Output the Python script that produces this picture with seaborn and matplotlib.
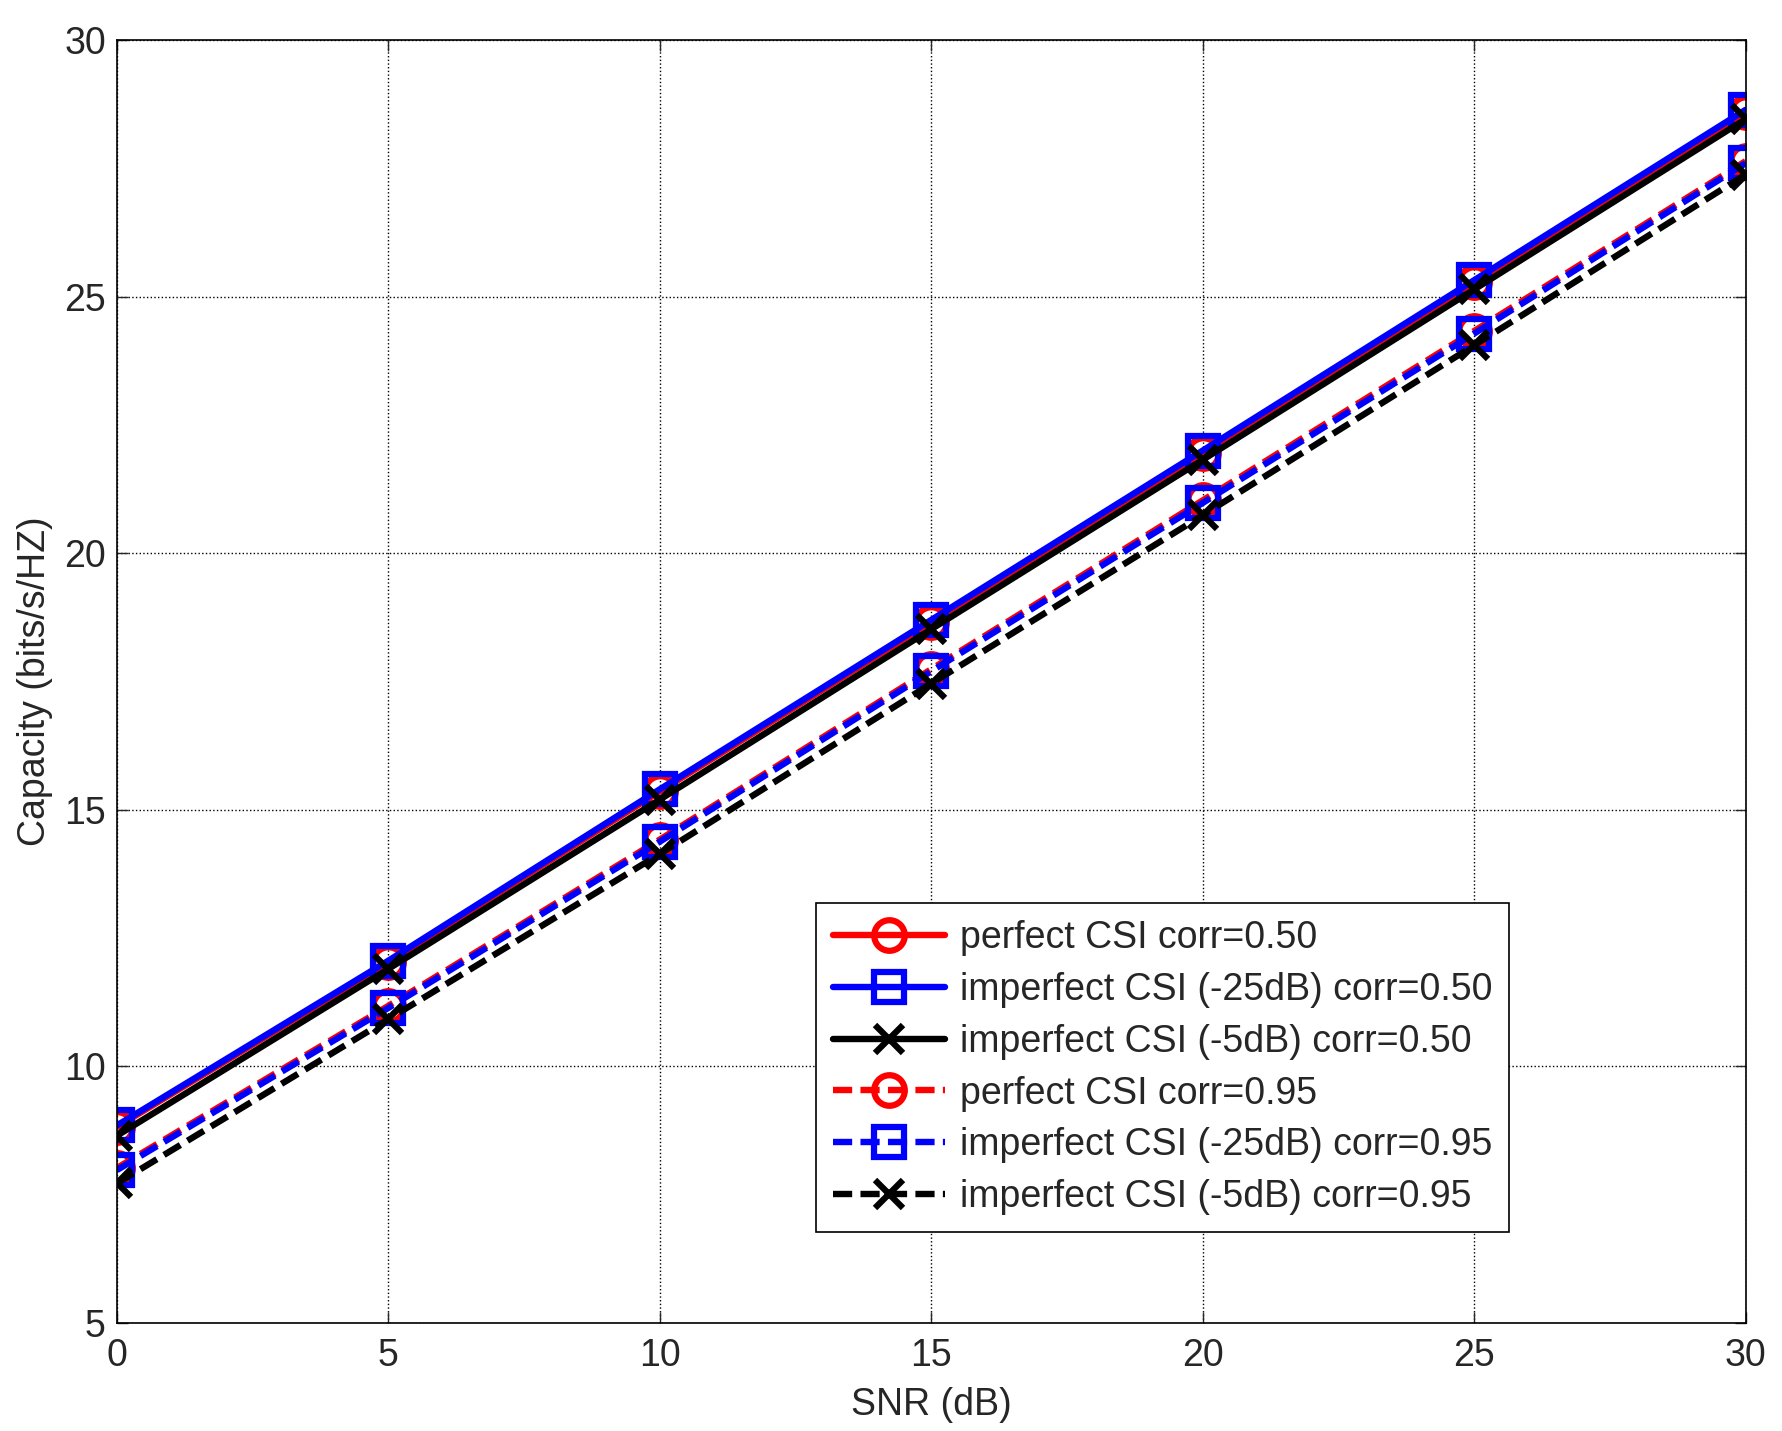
import matplotlib
matplotlib.use('Agg')

import numpy as np
import pandas as pd
import seaborn as sns
import matplotlib.pyplot as plt

# Capacity vs SNR values
snr_db = [0, 5, 10, 15, 20, 25, 30]
perfect_050 = [8.82, 12.03, 15.36, 18.66, 21.96, 25.28, 28.60]
imp25_050 = [8.85, 12.06, 15.40, 18.70, 22.00, 25.32, 28.64]
imp5_050 = [8.65, 11.90, 15.20, 18.52, 21.82, 25.14, 28.46]
perfect_095 = [8.02, 11.18, 14.42, 17.74, 21.03, 24.33, 27.64]
imp25_095 = [7.98, 11.14, 14.38, 17.70, 20.98, 24.28, 27.60]
imp5_095 = [7.72, 10.92, 14.14, 17.46, 20.74, 24.05, 27.38]

labels = [
    'perfect CSI corr=0.50',
    'imperfect CSI (-25dB) corr=0.50',
    'imperfect CSI (-5dB) corr=0.50',
    'perfect CSI corr=0.95',
    'imperfect CSI (-25dB) corr=0.95',
    'imperfect CSI (-5dB) corr=0.95',
]
series = [perfect_050, imp25_050, imp5_050, perfect_095, imp25_095, imp5_095]
colors = ['#ff0000', '#0000ff', '#000000', '#ff0000', '#0000ff', '#000000']
markers = ['o', 's', 'x', 'o', 's', 'x']
solid = [True, True, True, False, False, False]

sns.set_style("ticks")
plt.rcParams['font.family'] = ['Liberation Sans', 'DejaVu Sans']

fig = plt.figure(figsize=(17.83, 14.31), dpi=100)
ax = fig.add_axes([0.0656, 0.0755, 0.9134, 0.8965])

for vals, lab, col, mk, sol in zip(series, labels, colors, markers, solid):
    sns.lineplot(x=snr_db, y=vals, ax=ax, color=col, label=lab,
                 marker=mk, markersize=22 if mk != 'x' else 20,
                 markeredgewidth=4.5, markeredgecolor=col, markerfacecolor='none',
                 linewidth=4.6, dashes=False)
    if not sol:
        ax.lines[-1].set_dashes([3, 1.3])

ax.set_xlim(0, 30)
ax.set_ylim(5, 30)
ax.set_xticks(np.arange(0, 31, 5))
ax.set_yticks(np.arange(5, 31, 5))
ax.grid(True, color='black', linestyle=':', linewidth=1.0)
ax.tick_params(direction='in', top=True, right=True, labelsize=27, length=8, width=1)
ax.tick_params(axis='x', pad=11)
ax.tick_params(axis='y', pad=8)
for sp in ax.spines.values():
    sp.set_linewidth(1.2)
    sp.set_color('black')
ax.set_xlabel('SNR (dB)', fontsize=27, labelpad=9)
ax.set_ylabel('Capacity (bits/s/HZ)', fontsize=27, labelpad=8)

leg = ax.legend(loc='upper left', bbox_to_anchor=(0.429, 0.327), fontsize=27,
                frameon=True, fancybox=False, edgecolor='black', framealpha=1,
                handlelength=3.0, labelspacing=0.42, borderpad=0.45, handletextpad=0.4,
                borderaxespad=0)
leg.get_frame().set_linewidth(1.2)

plt.savefig('out.png', dpi=100)
